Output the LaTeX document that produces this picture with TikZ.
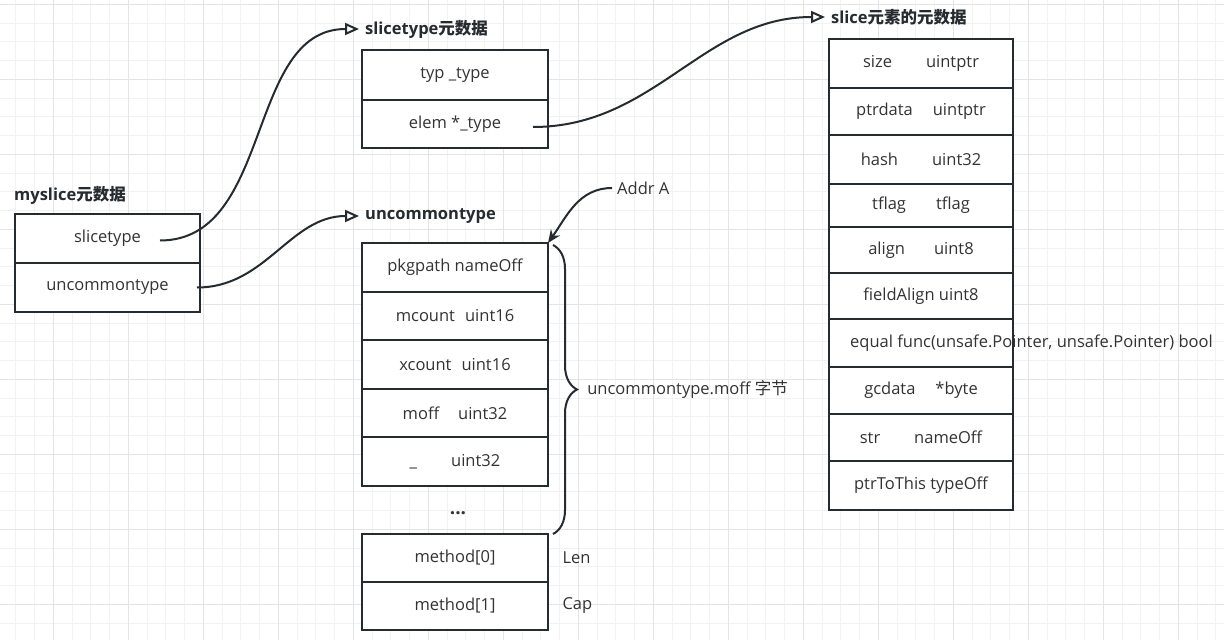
\documentclass[tikz,border=0pt]{standalone}
\usepackage{fontspec}
\setmainfont{Open Sans}
\newfontfamily\cjk{Noto Sans CJK SC}
\usepackage{tikz}
\usetikzlibrary{arrows.meta,decorations.pathreplacing,positioning}

\definecolor{inkline}{RGB}{38,43,48}
\definecolor{inktext}{RGB}{51,51,51}
\definecolor{gridminor}{RGB}{242,242,242}
\definecolor{gridmajor}{RGB}{228,228,228}

\begin{document}
\begin{tikzpicture}[x=1pt,y=1pt,
    field/.style={draw=inkline,line width=2.3pt,fill=white,outer sep=0pt,inner sep=0pt,
      minimum width=186pt,minimum height=49pt,text=inktext,
      font=\fontsize{16.5}{20}\selectfont},
    title/.style={anchor=west,inner xsep=6pt,inner ysep=2pt,text=inkline,
      font=\fontsize{16.5}{20}\selectfont\bfseries},
    note/.style={text=inktext,font=\fontsize{16.5}{20}\selectfont},
    link/.style={draw=inkline,line width=2pt,-{Triangle[open,length=14pt,width=12pt]}},
    pointer/.style={draw=inkline,line width=2pt,-{Stealth[length=13pt,width=11pt]}},
    brace/.style={draw=inkline,line width=2pt,decorate,decoration={brace,amplitude=24pt}}
  ]
  \useasboundingbox[fill=white] (0,0) rectangle (1224,-640);

  % background grid
  \foreach \i in {0,...,64}
    \draw[gridminor,line width=1pt] ({15.8+18.75*\i},0) -- ++(0,-640);
  \foreach \j in {0,...,33}
    \draw[gridminor,line width=1pt] (0,{-4.3-18.75*\j}) -- ++(1224,0);
  \foreach \i in {0,...,15}
    \draw[gridmajor,line width=1pt] ({53.3+75*\i},0) -- ++(0,-640);
  \foreach \j in {0,...,8}
    \draw[gridmajor,line width=1pt] (0,{-4.3-75*\j}) -- ++(1224,0);

  % myslice
  \node[title] (mstitle) at (8,-195) {myslice{\cjk 元数据}};
  \node[field,minimum width=185pt] (ms1) at (107.5,-238.5) {slicetype};
  \node[field,minimum width=185pt,below=0pt of ms1] (ms2) {uncommontype};

  % slicetype
  \node[title] (sttitle) at (359,-29) {slicetype{\cjk 元数据}};
  \node[field,minimum height=50pt] (st1) at (455,-75) {typ \_type};
  \node[field,minimum height=48pt,below=0pt of st1] (st2) {elem *\_type};

  % uncommontype
  \node[title] (uctitle) at (359,-216) {uncommontype};
  \node[field] (uc1) at (455,-267.5) {pkgpath nameOff};
  \node[field,minimum height=48pt,below=0pt of uc1] (uc2) {mcount\hspace{10pt}uint16};
  \node[field,below=0pt of uc2] (uc3) {xcount\hspace{10pt}uint16};
  \node[field,minimum height=48pt,below=0pt of uc3] (uc4) {moff\hspace{19pt}uint32};
  \node[field,below=0pt of uc4] (uc5) {\_\hspace{34pt}uint32};
  \node[note,font=\fontsize{19}{22}\selectfont\bfseries] (dots) at (458,-513) {...};
  \node[field,minimum height=48pt] (m1) at (455,-558) {method[0]};
  \node[field,minimum height=48pt,below=0pt of m1] (m2) {method[1]};
  \node[note,right=11pt of m1] (len) {Len};
  \node[note,right=11pt of m2] (cap) {Cap};

  % element type
  \node[title] (eltitle) at (825,-17) {slice{\cjk 元素的元数据}};
  \node[field,minimum width=184pt] (e1) at (921,-63.5) {size\hspace{34pt}uintptr};
  \node[field,minimum width=184pt,minimum height=47pt,below=0pt of e1] (e2) {ptrdata\hspace{20pt}uintptr};
  \node[field,minimum width=184pt,below=0pt of e2] (e3) {hash\hspace{34pt}uint32};
  \node[field,minimum width=184pt,minimum height=43pt,below=0pt of e3] (e4) {tflag\hspace{30pt}tflag};
  \node[field,minimum width=184pt,minimum height=46pt,below=0pt of e4] (e5) {align\hspace{29pt}uint8};
  \node[field,minimum width=184pt,minimum height=46pt,below=0pt of e5] (e6) {fieldAlign uint8};
  \node[field,minimum width=184pt,minimum height=48pt,below=0pt of e6] (e7) {};
  \node[field,minimum width=184pt,minimum height=47pt,below=0pt of e7] (e8) {gcdata\hspace{20pt}*byte};
  \node[field,minimum width=184pt,minimum height=47pt,below=0pt of e8] (e9) {str\hspace{34pt}nameOff};
  \node[field,minimum width=184pt,below=0pt of e9] (e10) {ptrToThis typeOff};
  \node[note,anchor=west,inner xsep=0pt] (eqlabel) at ([xshift=21pt]e7.west) {equal func(unsafe.Pointer, unsafe.Pointer) bool};

  % links
  \draw[link] ([xshift=-40pt,yshift=-2pt]ms1.east) to[out=0,in=180] (sttitle.west);
  \draw[link] ([xshift=-3pt]ms2.east) to[out=0,in=180] (uctitle.west);
  \draw[link] ([xshift=-15pt,yshift=-3pt]st2.east) to[out=0,in=180] (eltitle.west);
  \node[note,anchor=west,inner xsep=5pt] (addr) at (612,-188) {Addr A};
  \draw[pointer] (addr.west) to[out=180,in=55] (uc1.north east);
  \draw[brace] ([xshift=5pt,yshift=-2pt]uc1.north east) -- ([xshift=5pt]m1.north east)
    node[note,midway,anchor=west,xshift=30pt] (bytes) {uncommontype.moff {\cjk 字节}};
\end{tikzpicture}
\end{document}
